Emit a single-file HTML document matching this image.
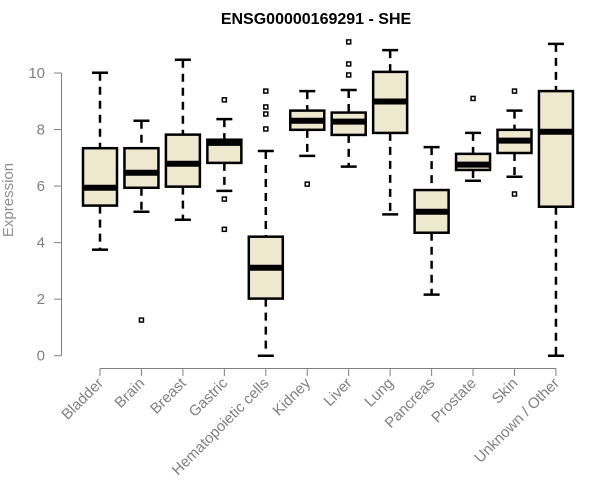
<!DOCTYPE html>
<html><head><meta charset="utf-8"><style>
html,body{margin:0;padding:0;background:#fff;}
svg{display:block;font-family:"Liberation Sans",Arial,sans-serif;}
</style></head><body>
<svg id="chart" width="600" height="500">
<text x="316" y="24" text-anchor="middle" font-weight="bold" font-size="16" fill="#000">ENSG00000169291 - SHE</text>
<text transform="translate(13,200) rotate(-90)" text-anchor="middle" font-size="15" fill="#909090">Expression</text>
<g id="axes"></g>
<g id="boxes"></g>
</svg>
<script>
const categories=["Bladder","Brain","Breast","Gastric","Hematopoietic cells","Kidney","Liver","Lung","Pancreas","Prostate","Skin","Unknown / Other"];
const whiskerLow=[3.75,5.09,4.81,5.83,0,7.07,6.69,5.00,2.16,6.19,6.33,0];
const q1=[5.31,5.94,5.98,6.82,2.02,7.99,7.81,7.88,4.35,6.57,7.17,5.27];
const medians=[5.94,6.47,6.79,7.53,3.11,8.31,8.28,8.99,5.09,6.76,7.61,7.92];
const q3=[7.34,7.34,7.82,7.64,4.21,8.67,8.60,10.04,5.86,7.14,7.99,9.36];
const whiskerHigh=[10.01,8.31,10.47,8.37,7.24,9.36,9.40,10.81,7.38,7.88,8.67,11.03];
const outliers=[[],[1.26],[],[9.05,5.54,4.47],[9.36,8.80,8.55,8.02],[6.07],[11.10,10.32,9.93],[],[],[9.10],[9.36,5.72],[]];
const yTicks=[0,2,4,6,8,10];
const NS="http://www.w3.org/2000/svg";
const y=v=>355.7-v*28.27;
const x=i=>100+i*41.45;
const HW=17;
function mk(tag,attrs,parent){const e=document.createElementNS(NS,tag);for(const k in attrs)e.setAttribute(k,attrs[k]);parent.appendChild(e);return e;}
const axes=document.getElementById('axes'),boxes=document.getElementById('boxes');
const grey="#808080";
const ya=mk('line',{x1:61.5,x2:61.5,y1:y(10),y2:y(0),stroke:grey,'stroke-width':1},axes);


yTicks.forEach(t=>{
 const l=mk('line',{x1:54,x2:61.5,y1:y(t),y2:y(t),stroke:grey},axes);
 
 
 const tx=mk('text',{x:45,y:y(t)+5,'text-anchor':'end','font-size':15,fill:grey},axes);
 tx.textContent=t;
 
 
});
const xa=mk('line',{x1:x(0),x2:x(categories.length-1),y1:368.5,y2:368.5,stroke:grey},axes);


categories.forEach((c,i)=>{
 const l=mk('line',{x1:x(i),x2:x(i),y1:368.5,y2:376,stroke:grey},axes);
 
 
 const tx=mk('text',{transform:`translate(${x(i)+4},${384}) rotate(-45)`,'text-anchor':'end','font-size':15,fill:grey},axes);
 tx.textContent=c;
 
 
 const g=mk('g',{},boxes);
 
 
 const cx=x(i);
 mk('line',{x1:cx,x2:cx,y1:y(whiskerHigh[i]),y2:y(q3[i]),stroke:'#000','stroke-width':2.5,'stroke-dasharray':'8,6'},g);
 mk('line',{x1:cx,x2:cx,y1:y(q1[i]),y2:y(whiskerLow[i]),stroke:'#000','stroke-width':2.5,'stroke-dasharray':'8,6'},g);
 mk('line',{x1:cx-8,x2:cx+8,y1:y(whiskerHigh[i]),y2:y(whiskerHigh[i]),stroke:'#000','stroke-width':2.5},g);
 mk('line',{x1:cx-8,x2:cx+8,y1:y(whiskerLow[i]),y2:y(whiskerLow[i]),stroke:'#000','stroke-width':2.5},g);
 mk('rect',{x:cx-HW,y:y(q3[i]),width:2*HW,height:y(q1[i])-y(q3[i]),fill:'#eee8cf',stroke:'#000','stroke-width':2.5},g);
 mk('line',{x1:cx-HW,x2:cx+HW,y1:y(medians[i]),y2:y(medians[i]),stroke:'#000','stroke-width':6},g);
 outliers[i].forEach(o=>{
  const r=mk('rect',{x:cx-2,y:y(o)-2,width:4,height:4,fill:'none',stroke:'#000','stroke-width':1.5},g);
  
  
 });
});
</script>
</body></html>
